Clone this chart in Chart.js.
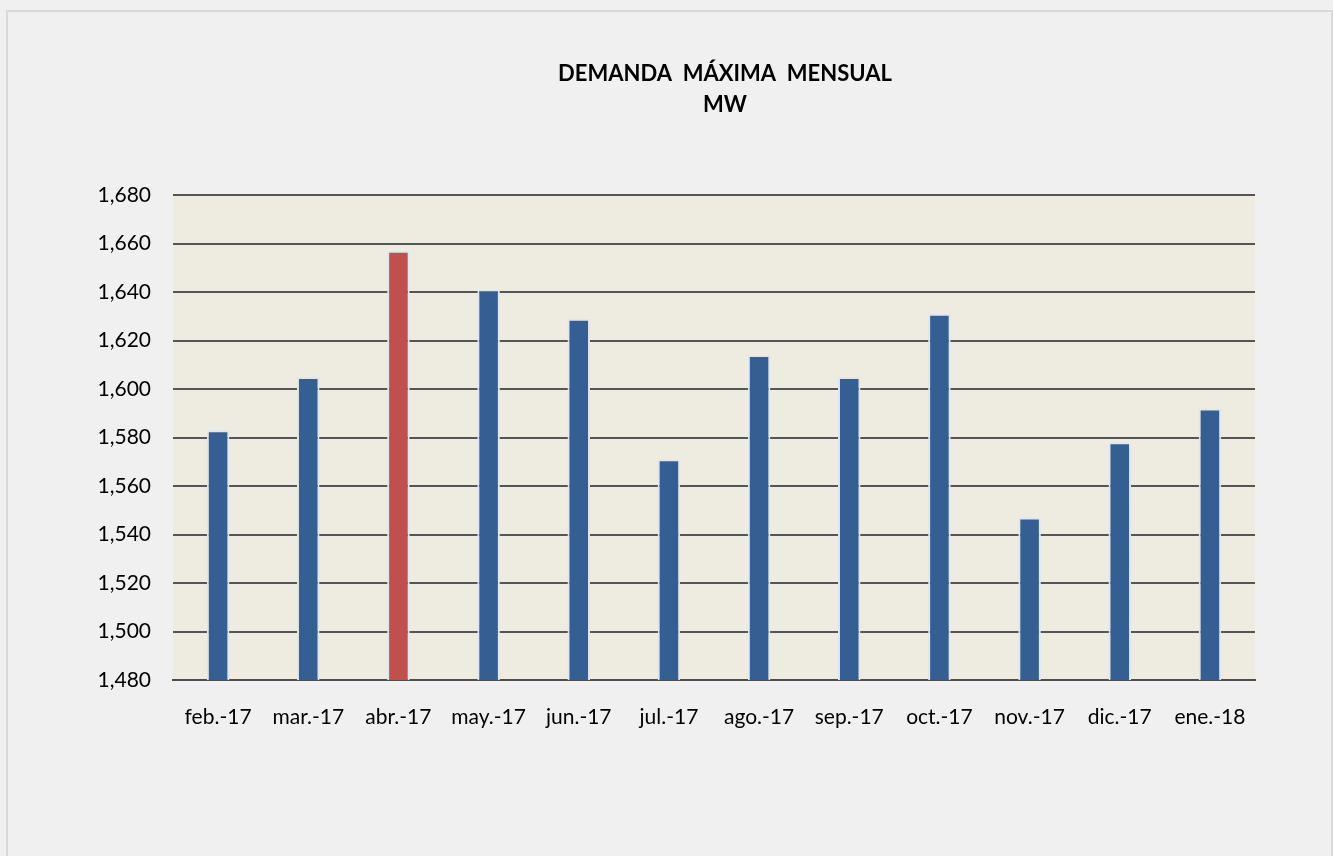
<!DOCTYPE html>
<html>
<head>
<meta charset="utf-8">
<script src="https://cdn.jsdelivr.net/npm/chart.js@4.4.1/dist/chart.umd.min.js"></script>
<style>
    html, body { margin: 0; padding: 0; background: #f0f0f0; overflow: hidden; }
    #frame {
        position: absolute; left: 6px; top: 10px; width: 1323px; height: 860px;
        border: 2px solid #d9d9d9; border-bottom: none;
    }
    #wrap { position: absolute; left: 0; top: 0; width: 1333px; height: 856px; }
</style>
</head>
<body>
<div id="frame"></div>
<div id="wrap"><canvas id="demanda-chart"></canvas></div>
<script>
const meses = ['feb.-17', 'mar.-17', 'abr.-17', 'may.-17', 'jun.-17', 'jul.-17', 'ago.-17', 'sep.-17', 'oct.-17', 'nov.-17', 'dic.-17', 'ene.-18'];
const demandaMW = [1583, 1605, 1657, 1641, 1629, 1571, 1614, 1605, 1631, 1547, 1578, 1592];
const mesMaximo = 'abr.-17';
const tituloLineas = ['DEMANDA  MÁXIMA  MENSUAL', 'MW'];

const colorBarra = '#355f92';
const colorMaximo = '#c0504d';

// fondo beige del area de grafico
const fondoPlot = {
    id: 'fondoPlot',
    beforeDraw(chart) {
        const { ctx, chartArea } = chart;
        ctx.save();
        ctx.fillStyle = '#eeece1';
        ctx.fillRect(chartArea.left, chartArea.top, chartArea.right - chartArea.left, chartArea.bottom - chartArea.top);
        ctx.restore();
    }
};

// titulo en dos lineas, centrado como en el original
const titulo = {
    id: 'titulo',
    afterDraw(chart) {
        const ctx = chart.ctx;
        ctx.save();
        ctx.fillStyle = '#000';
        ctx.font = 'bold 22px Lato';
        ctx.textAlign = 'center';
        ctx.textBaseline = 'middle';
        ctx.fillText(tituloLineas[0], 725, 74);
        ctx.fillText(tituloLineas[1], 725, 105);
        ctx.restore();
    }
};

new Chart(document.getElementById('demanda-chart'), {
    type: 'bar',
    data: {
        labels: meses,
        datasets: [{
            data: demandaMW,
            backgroundColor: meses.map(m => m === mesMaximo ? colorMaximo : colorBarra),
            borderColor: '#dfe6f1',
            borderWidth: 2,
            borderSkipped: false,
            barPercentage: 0.25,
            categoryPercentage: 1
        }]
    },
    options: {
        responsive: true,
        maintainAspectRatio: false,
        animation: false,
        layout: { padding: { top: 195, right: 78, left: 0, bottom: 0 } },
        plugins: {
            legend: { display: false },
            tooltip: { enabled: false }
        },
        scales: {
            x: {
                afterFit: s => { s.height = 176; },
                grid: { display: false },
                border: { display: true, color: '#4d4d4d', width: 2 },
                ticks: { color: '#000', font: { family: 'Lato', size: 21 }, padding: 17, maxRotation: 0 }
            },
            y: {
                min: 1480,
                max: 1680,
                afterFit: s => { s.width = 173; },
                grid: { color: '#555', lineWidth: 2, drawTicks: false },
                border: { display: false },
                ticks: {
                    stepSize: 20,
                    padding: 22,
                    color: '#000',
                    font: { family: 'Lato', size: 21 },
                    callback: v => v.toLocaleString('en-US')
                }
            }
        }
    },
    plugins: [fondoPlot, titulo]
});
</script>
</body>
</html>
